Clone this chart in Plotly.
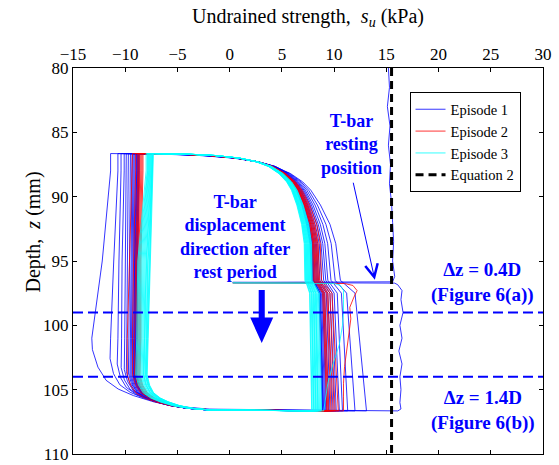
import numpy as np
import plotly.graph_objects as go

# ---------------- data ----------------
X_TICKS = [-15, -10, -5, 0, 5, 10, 15, 20, 25, 30]
Y_TICKS = [80, 85, 90, 95, 100, 105, 110]

Z_TOP = 86.65      # upper turning depth of the cycles (mm)
Z_BOT = 106.65     # lower turning depth of the cycles (mm)
Z_REST = 96.7      # T-bar resting position (mm)
SU_RELAX = 0.3     # strength after rest (kPa)

EQ2_SU = 15.5      # Equation 2 strength (kPa)
REF_DEPTHS = [99, 104]   # dz = 0.4D and 1.4D depths

# shape of the strength reversal after the top turn (fraction of change vs. depth moved)
TOP_DZ = [0, 0.05, 0.15, 0.35, 0.65, 1.0, 1.55, 2.2, 2.85, 4.0, 5.5, 7.0]
TOP_FRAC = [0, 0.25, 0.42, 0.58, 0.7, 0.78, 0.85, 0.9, 0.93, 0.96, 0.985, 1.0]
# shape of the strength reversal after the bottom turn
BOT_DZ = [0, 0.08, 0.2, 0.4, 0.7, 1.0, 1.4, 2.0, 2.8]
BOT_FRAC = [0, 0.62, 0.72, 0.8, 0.87, 0.92, 0.96, 0.985, 1.0]

# depths at which each stroke's strength was read
POS_Z = [88, 92, 96.5, 97.5, 106.5]
NEG_Z = [88, 95, 101, 104]

# ---- Episode 1 ----
EP1_FIRST_Z = [80, 81.5, 83, 84.5, 86, 87.5, 89, 90.5, 92, 93.5, 95, 96.2, 96.62,
               96.66, 96.72, 96.85, 97.3, 98, 99, 100, 101, 102, 103, 104, 105,
               106, 106.5, 106.65]
EP1_FIRST_SU = [15.2, 15.3, 15.1, 15.35, 15.2, 15.4, 15.3, 15.5, 15.6, 15.7, 15.6, 15.8, 15.6,
                0.3, 15.8, 16.1, 16.5, 16.4, 16.6, 16.3, 16.5, 16.2, 16.5, 16.3, 16.4,
                16.3, 16.4, 16.1]
EP1_NEG = [
    [-11.4, -12.2, -13.2, -13.0],
    [-10.7, -11.1, -11.4, -11.5],
    [-10.4, -10.6, -10.7, -10.8],
    [-10.1, -10.3, -10.35, -10.4],
    [-9.9, -10.0, -10.05, -10.1],
    [-9.7, -9.8, -9.85, -9.9],
    [-9.5, -9.6, -9.65, -9.7],
    [-9.35, -9.45, -9.5, -9.55],
    [-9.25, -9.35, -9.4, -9.45],
    [-9.15, -9.25, -9.3, -9.35],
    [-9.05, -9.15, -9.2, -9.25],
    [-8.95, -9.1, -9.15, -9.2],
    [-8.9, -9.05, -9.1, -9.15],
    [-8.85, -9.0, -9.05, -9.1],
    [-8.8, -8.95, -9.0, -9.05],
    [-8.75, -8.9, -8.95, -9.0],
    [-8.7, -8.85, -8.9, -8.95],
    [-8.65, -8.8, -8.85, -8.9],
]
EP1_NEG_SPAN = [1.7, 1.45, 1.3, 1.2, 1.15, 1.1, 1.05, 1.0, 1.0, 1.0, 1.0, 1.0, 1.0, 1.0, 1.0, 1.0, 1.0, 1.0]
EP1_POS = [
    [8.8, 9.9, 10.6, 12.0, 13.1],
    [8.6, 9.5, 10.1, 11.2, 12.0],
    [8.45, 9.2, 9.7, 10.7, 11.3],
    [8.3, 8.95, 9.4, 10.3, 10.8],
    [8.2, 8.75, 9.2, 10.0, 10.5],
    [8.1, 8.6, 9.0, 9.8, 10.2],
    [8.0, 8.45, 8.8, 9.6, 10.0],
    [7.95, 8.3, 8.65, 9.4, 9.8],
    [7.9, 8.2, 8.5, 9.25, 9.6],
    [7.85, 8.1, 8.4, 9.1, 9.45],
    [7.8, 8.0, 8.3, 9.0, 9.3],
    [7.75, 7.9, 8.2, 8.9, 9.2],
    [7.7, 7.85, 8.1, 8.8, 9.1],
    [7.65, 7.8, 8.05, 8.7, 9.0],
    [7.6, 7.75, 8.0, 8.65, 8.95],
    [7.55, 7.7, 7.95, 8.6, 8.9],
    [7.5, 7.65, 7.9, 8.55, 8.85],
    [7.5, 7.6, 7.85, 8.5, 8.8],
]

# ---- Episode 2 ----
EP2_FIRST_Z = [96.7, 96.75, 96.9, 97.3, 97.8, 98.6, 99.5, 101, 102, 103.2, 104.5, 105.5, 106.65]
EP2_FIRST_SU = [0.3, 11.0, 11.8, 12.2, 11.9, 11.5, 11.6, 11.4, 11.2, 11.0, 10.9, 10.9, 10.9]
EP2_NEG = [
    [-9.3, -9.6, -9.8, -9.8],
    [-9.0, -9.2, -9.3, -9.3],
    [-8.8, -9.0, -9.1, -9.1],
    [-8.7, -8.9, -8.9, -9.0],
    [-8.6, -8.8, -8.8, -8.9],
    [-8.5, -8.7, -8.7, -8.8],
    [-8.4, -8.6, -8.6, -8.7],
    [-8.3, -8.5, -8.5, -8.6],
]
EP2_POS = [
    [7.9, 8.6, 8.8, 9.8, 10.4],
    [7.8, 8.4, 8.6, 9.6, 10.1],
    [7.7, 8.3, 8.5, 9.4, 9.9],
    [7.6, 8.2, 8.4, 9.3, 9.7],
    [7.6, 8.1, 8.3, 9.1, 9.5],
    [7.5, 8.0, 8.2, 9.0, 9.4],
    [7.5, 8.0, 8.1, 8.9, 9.3],
    [7.4, 7.9, 8.0, 8.8, 9.2],
]

# ---- Episode 3 ----
EP3_FIRST_Z = [96.7, 96.75, 96.9, 97.3, 98, 99, 100, 101.5, 103, 104.5, 106.65]
EP3_FIRST_SU = [0.3, 10.0, 10.6, 10.9, 10.9, 10.9, 10.8, 10.5, 9.9, 9.4, 9.0]
EP3_NEG = [
    [-8.0, -8.8, -8.9, -9.0],
    [-7.9, -8.7, -8.8, -8.9],
    [-7.85, -8.6, -8.7, -8.8],
    [-7.8, -8.5, -8.6, -8.7],
    [-7.75, -8.4, -8.5, -8.6],
    [-7.7, -8.3, -8.4, -8.5],
    [-7.65, -8.2, -8.3, -8.4],
    [-7.6, -8.1, -8.2, -8.3],
    [-7.55, -8.0, -8.15, -8.25],
    [-7.5, -7.95, -8.1, -8.2],
    [-7.45, -7.85, -8.0, -8.1],
    [-7.4, -7.8, -7.95, -8.05],
    [-7.4, -7.7, -7.9, -8.0],
    [-7.35, -7.65, -7.85, -7.95],
    [-7.3, -7.6, -7.8, -7.9],
]
EP3_POS = [
    [7.4, 7.8, 7.9, 8.6, 8.8],
    [7.35, 7.75, 7.85, 8.5, 8.7],
    [7.3, 7.7, 7.8, 8.4, 8.6],
    [7.25, 7.65, 7.75, 8.3, 8.5],
    [7.2, 7.6, 7.7, 8.25, 8.45],
    [7.15, 7.55, 7.65, 8.2, 8.4],
    [7.1, 7.5, 7.6, 8.1, 8.3],
    [7.05, 7.45, 7.55, 8.05, 8.25],
    [7.0, 7.4, 7.5, 8.0, 8.2],
    [7.0, 7.35, 7.45, 7.9, 8.1],
    [6.95, 7.3, 7.4, 7.85, 8.05],
    [6.9, 7.25, 7.35, 7.8, 8.0],
    [6.9, 7.2, 7.3, 7.7, 7.9],
    [6.85, 7.15, 7.25, 7.65, 7.85],
    [6.8, 7.1, 7.2, 7.6, 7.8],
]

# ---------------- build the cycle paths ----------------
def down_stroke(s_prev, prof, z_end):
    zs = sorted(set([Z_TOP + d for d in TOP_DZ if Z_TOP + d <= z_end]
                    + [z for z in POS_Z if Z_TOP < z <= z_end] + [z_end]))
    zs = np.array(zs)
    P = np.interp(zs, POS_Z, prof)
    f = np.interp(zs - Z_TOP, TOP_DZ, TOP_FRAC)
    return list(s_prev + (P - s_prev) * f), list(zs)


def up_stroke(s_prev, prof, span):
    dz = np.array(BOT_DZ) * span
    zs = sorted(set(list(Z_BOT - dz) + [z for z in NEG_Z if Z_TOP <= z < Z_BOT] + [Z_TOP]),
                reverse=True)
    zs = np.array(zs)
    N = np.interp(zs, NEG_Z, prof)
    f = np.interp(Z_BOT - zs, dz, BOT_FRAC)
    return list(s_prev + (N - s_prev) * f), list(zs)


def episode(first_su, first_z, neg, pos, spans=None):
    xs, ys = list(first_su), list(first_z)
    for k in range(len(neg)):
        sp = spans[k] if spans else 1.0
        a, b = up_stroke(xs[-1], neg[k], sp)
        xs += a
        ys += b
        z_end = Z_BOT if k < len(neg) - 1 else Z_REST
        a, b = down_stroke(xs[-1], pos[k], z_end)
        xs += a
        ys += b
    xs.append(SU_RELAX)
    ys.append(Z_REST)
    return xs, ys


e1x, e1y = episode(EP1_FIRST_SU, EP1_FIRST_Z, EP1_NEG, EP1_POS, EP1_NEG_SPAN)
e2x, e2y = episode(EP2_FIRST_SU, EP2_FIRST_Z, EP2_NEG, EP2_POS)
e3x, e3y = episode(EP3_FIRST_SU, EP3_FIRST_Z, EP3_NEG, EP3_POS)

FONT = "'Liberation Serif', 'Times New Roman', Times, serif"
BLUE = "#0000FF"

fig = go.Figure()
fig.add_trace(go.Scatter(x=e1x, y=e1y, mode="lines", name="Episode 1",
                         line=dict(color="#0000FF", width=0.8)))
fig.add_trace(go.Scatter(x=e2x, y=e2y, mode="lines", name="Episode 2",
                         line=dict(color="#FF0000", width=0.8)))
fig.add_trace(go.Scatter(x=e3x, y=e3y, mode="lines", name="Episode 3",
                         line=dict(color="#00FFFF", width=0.8)))
fig.add_trace(go.Scatter(x=[EQ2_SU, EQ2_SU], y=[80, 110], mode="lines", name="Equation 2",
                         line=dict(color="black", width=3, dash="8px,5px")))

for zr in REF_DEPTHS:
    fig.add_shape(type="line", xref="paper", x0=0, x1=1, yref="y", y0=zr, y1=zr,
                  line=dict(color=BLUE, width=2, dash="10px,5px"), layer="above")

# thick arrow: displacement direction
ax_c = 3.07
fig.add_shape(type="path", xref="x", yref="y", layer="above",
              path=(f"M {ax_c-0.29},97.25 L {ax_c+0.29},97.25 L {ax_c+0.29},99.4 "
                    f"L {ax_c+1.1},99.4 L {ax_c},101.37 L {ax_c-1.1},99.4 L {ax_c-0.29},99.4 Z"),
              fillcolor=BLUE, line=dict(width=0))

ann_font = dict(family=FONT, size=18, color=BLUE)
ann_font2 = dict(family=FONT, size=19, color=BLUE)
annotations = [
    dict(x=11.7, y=85.95, text="<b>T-bar<br>resting<br>position</b>", showarrow=False,
         font=ann_font, xref="x", yref="y"),
    dict(x=13.9, y=96.45, ax=11.8, ay=88.8, axref="x", ayref="y", xref="x", yref="y",
         text="", showarrow=True, arrowhead=5, arrowsize=2.5, arrowwidth=1, arrowcolor=BLUE),
    dict(x=0.5, y=93.15, text="<b>T-bar<br>displacement<br>direction after<br>rest period</b>",
         showarrow=False, font=ann_font, xref="x", yref="y"),
    dict(x=24.2, y=96.7, text="<b>Δz = 0.4D<br>(Figure 6(a))</b>", showarrow=False,
         font=ann_font2, xref="x", yref="y"),
    dict(x=24.3, y=106.6, text="<b>Δz = 1.4D<br>(Figure 6(b))</b>", showarrow=False,
         font=ann_font2, xref="x", yref="y"),
    dict(x=0.5, y=1.132, xref="paper", yref="paper", showarrow=False,
         text="Undrained strength,  <i>s</i><sub><i>u</i></sub> (kPa)",
         font=dict(family=FONT, size=20, color="black"), yanchor="middle"),
    dict(x=-0.1128, y=0.575, xref="paper", yref="paper", showarrow=False,
         text="Depth,  <i>z</i> (mm)", textangle=-90,
         font=dict(family=FONT, size=20, color="black")),
]
fig.update_layout(annotations=annotations)

axis_common = dict(showgrid=False, zeroline=False, showline=True, linecolor="black",
                   linewidth=1, mirror="ticks", ticks="inside", ticklen=4, tickcolor="black",
                   automargin=False,
                   tickfont=dict(family=FONT, size=17, color="black"))
fig.update_xaxes(range=[-15, 30], side="top", tickvals=X_TICKS, **axis_common)
fig.update_yaxes(range=[110, 80], tickvals=Y_TICKS, **axis_common)

fig.update_layout(
    width=559, height=465,
    margin=dict(l=73, r=16, t=68, b=11, autoexpand=False),
    paper_bgcolor="white", plot_bgcolor="white",
    showlegend=True,
    font=dict(family=FONT),
    legend=dict(x=0.716, y=0.937, xanchor="left", yanchor="top",
                bgcolor="white", bordercolor="black", borderwidth=1,
                font=dict(family=FONT, size=14.5, color="black"),
                itemwidth=30, tracegroupgap=0),
)

fig.write_html("out.html")
